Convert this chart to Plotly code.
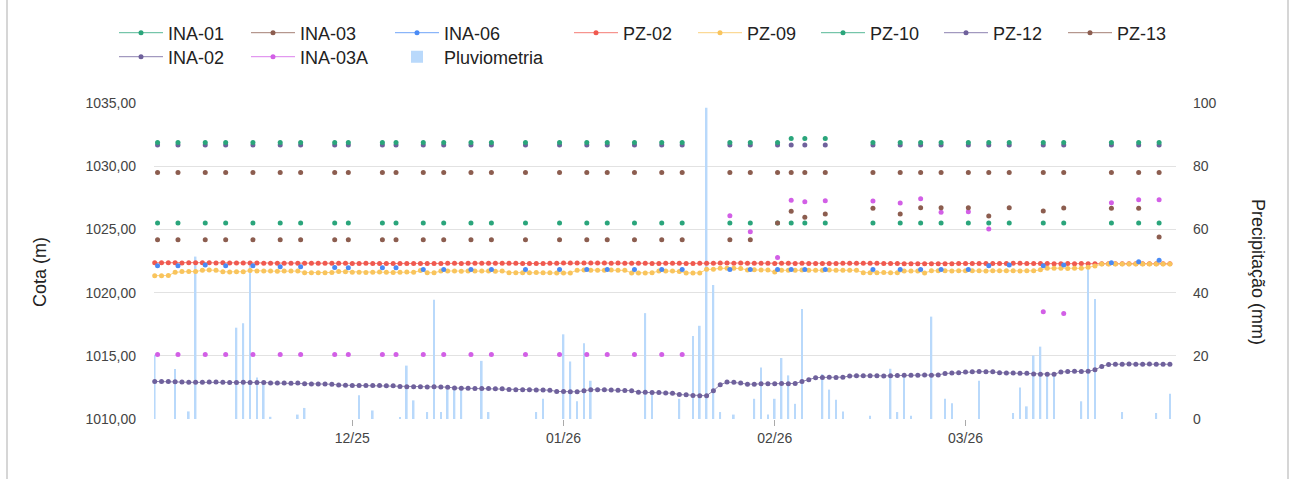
import pandas as pd
import plotly.graph_objects as go

# leituras diarias (02/11/2025 a 31/03/2026)
dias = pd.date_range("2025-11-02", "2026-03-31", freq="D")

ina02 = [
    1012.97, 1012.97, 1012.96, 1012.95, 1012.92, 1012.90, 1012.90, 1012.91, 1012.92, 1012.92,
    1012.91, 1012.89, 1012.89, 1012.90, 1012.89, 1012.88, 1012.89, 1012.85, 1012.84, 1012.84,
    1012.83, 1012.84, 1012.78, 1012.77, 1012.76, 1012.76, 1012.75, 1012.68, 1012.67, 1012.66,
    1012.66, 1012.65, 1012.66, 1012.65, 1012.64, 1012.63, 1012.57, 1012.56, 1012.55, 1012.55,
    1012.54, 1012.55, 1012.53, 1012.52, 1012.45, 1012.44, 1012.43, 1012.42, 1012.42, 1012.41,
    1012.40, 1012.39, 1012.33, 1012.32, 1012.31, 1012.31, 1012.30, 1012.29, 1012.28, 1012.18,
    1012.17, 1012.16, 1012.15, 1012.24, 1012.31, 1012.32, 1012.31, 1012.30, 1012.27, 1012.26,
    1012.24, 1012.12, 1012.11, 1012.10, 1012.09, 1012.06, 1012.04, 1011.93, 1011.91, 1011.85,
    1011.84, 1011.84, 1012.24, 1012.71, 1012.92, 1012.91, 1012.84, 1012.75, 1012.74, 1012.78,
    1012.79, 1012.79, 1012.80, 1012.79, 1012.81, 1012.97, 1013.10, 1013.27, 1013.29, 1013.30,
    1013.29, 1013.31, 1013.40, 1013.42, 1013.42, 1013.43, 1013.42, 1013.41, 1013.43, 1013.44,
    1013.46, 1013.47, 1013.47, 1013.48, 1013.47, 1013.49, 1013.60, 1013.63, 1013.65, 1013.72,
    1013.74, 1013.75, 1013.74, 1013.73, 1013.66, 1013.64, 1013.63, 1013.62, 1013.62, 1013.56,
    1013.55, 1013.55, 1013.54, 1013.72, 1013.76, 1013.77, 1013.76, 1013.78, 1013.89, 1014.16,
    1014.32, 1014.34, 1014.34, 1014.35, 1014.34, 1014.34, 1014.35, 1014.34, 1014.33, 1014.33,
]

pz02 = [
    1022.36, 1022.37, 1022.36, 1022.36, 1022.35, 1022.36, 1022.37, 1022.36, 1022.36, 1022.35,
    1022.36, 1022.35, 1022.34, 1022.35, 1022.35, 1022.34, 1022.33, 1022.32, 1022.32, 1022.33,
    1022.33, 1022.32, 1022.33, 1022.33, 1022.32, 1022.33, 1022.33, 1022.32, 1022.32, 1022.31,
    1022.31, 1022.32, 1022.31, 1022.31, 1022.30, 1022.31, 1022.31, 1022.30, 1022.31, 1022.31,
    1022.30, 1022.31, 1022.31, 1022.32, 1022.32, 1022.31, 1022.32, 1022.32, 1022.33, 1022.33,
    1022.32, 1022.33, 1022.32, 1022.32, 1022.31, 1022.31, 1022.30, 1022.31, 1022.32, 1022.33,
    1022.34, 1022.34, 1022.35, 1022.34, 1022.35, 1022.35, 1022.34, 1022.33, 1022.34, 1022.33,
    1022.32, 1022.33, 1022.32, 1022.31, 1022.31, 1022.32, 1022.33, 1022.32, 1022.31, 1022.31,
    1022.32, 1022.33, 1022.33, 1022.34, 1022.34, 1022.33, 1022.34, 1022.33, 1022.33, 1022.32,
    1022.32, 1022.31, 1022.32, 1022.32, 1022.31, 1022.32, 1022.31, 1022.30, 1022.30, 1022.31,
    1022.31, 1022.32, 1022.32, 1022.33, 1022.33, 1022.32, 1022.32, 1022.31, 1022.31, 1022.30,
    1022.29, 1022.29, 1022.28, 1022.29, 1022.28, 1022.28, 1022.29, 1022.29, 1022.30, 1022.30,
    1022.30, 1022.31, 1022.31, 1022.30, 1022.31, 1022.31, 1022.32, 1022.32, 1022.31, 1022.30,
    1022.30, 1022.30, 1022.29, 1022.29, 1022.30, 1022.29, 1022.30, 1022.29, 1022.29, 1022.29,
    1022.28, 1022.28, 1022.29, 1022.28, 1022.28, 1022.28, 1022.28, 1022.29, 1022.28, 1022.28,
]

pz09 = [
    1021.34, 1021.34, 1021.35, 1021.61, 1021.66, 1021.67, 1021.66, 1021.77, 1021.78, 1021.76,
    1021.64, 1021.63, 1021.64, 1021.65, 1021.74, 1021.71, 1021.70, 1021.70, 1021.69, 1021.70,
    1021.71, 1021.70, 1021.58, 1021.57, 1021.58, 1021.58, 1021.59, 1021.66, 1021.65, 1021.61,
    1021.61, 1021.60, 1021.61, 1021.62, 1021.61, 1021.60, 1021.61, 1021.62, 1021.61, 1021.74,
    1021.58, 1021.57, 1021.70, 1021.71, 1021.70, 1021.69, 1021.70, 1021.71, 1021.70, 1021.70,
    1021.69, 1021.70, 1021.58, 1021.58, 1021.57, 1021.58, 1021.59, 1021.58, 1021.58, 1021.56,
    1021.55, 1021.56, 1021.77, 1021.78, 1021.77, 1021.76, 1021.77, 1021.78, 1021.77, 1021.76,
    1021.56, 1021.55, 1021.56, 1021.57, 1021.70, 1021.71, 1021.70, 1021.66, 1021.56, 1021.55,
    1021.56, 1021.84, 1021.85, 1021.92, 1021.93, 1021.92, 1021.91, 1021.79, 1021.80, 1021.79,
    1021.78, 1021.62, 1021.77, 1021.76, 1021.77, 1021.78, 1021.77, 1021.76, 1021.77, 1021.78,
    1021.77, 1021.76, 1021.77, 1021.77, 1021.58, 1021.57, 1021.58, 1021.59, 1021.58, 1021.57,
    1021.70, 1021.71, 1021.70, 1021.56, 1021.72, 1021.73, 1021.72, 1021.71, 1021.72, 1021.72,
    1021.73, 1021.72, 1021.71, 1021.72, 1021.72, 1021.73, 1021.72, 1021.71, 1021.72, 1021.72,
    1021.80, 1021.92, 1021.93, 1021.92, 1021.91, 1021.92, 1021.92, 1022.00, 1022.10, 1022.26,
    1022.26, 1022.27, 1022.26, 1022.26, 1022.27, 1022.26, 1022.26, 1022.27, 1022.26, 1022.26,
]

pluviometria = [
    20.3, 0, 0, 15.8, 0, 2.4, 51.4, 0, 0, 0,
    0, 0, 28.9, 30.3, 49.0, 13.1, 11.4, 0.7, 0, 0,
    0, 1.4, 3.5, 0, 0, 0, 0, 0, 0, 0,
    7.5, 0, 2.7, 0, 0, 0, 0.5, 16.9, 5.9, 0,
    2.2, 37.7, 2.2, 9.3, 10.3, 10.3, 0, 0, 18.4, 2.2,
    0, 0, 0, 0, 0, 0, 2.2, 6.4, 0, 0,
    26.8, 18.2, 5.6, 24.0, 12.1, 0, 0, 0, 0, 0,
    0, 0, 33.5, 8.5, 0, 0, 0, 6.4, 0, 26.3,
    29.5, 98.5, 42.4, 2.2, 0, 1.4, 0, 0, 6.4, 16.3,
    1.4, 6.4, 19.3, 13.8, 4.8, 34.8, 0, 0, 14.2, 9.3,
    6.1, 2.4, 0, 0, 0, 1.0, 0, 0, 15.9, 2.2,
    14.2, 1.0, 0, 0, 32.4, 0, 6.4, 5.0, 0, 0,
    0, 12.1, 0, 0, 0, 0, 1.9, 10.0, 4.0, 20.1,
    22.9, 14.2, 13.8, 0, 0, 0, 5.6, 47.7, 38.0, 0,
    0, 0, 2.2, 0, 0, 0, 0, 1.9, 0, 8.0,
]

# leituras de campo (manuais)
datas_campo = [
    "2025-11-02", "2025-11-05", "2025-11-09", "2025-11-12", "2025-11-16", "2025-11-20",
    "2025-11-23", "2025-11-28", "2025-11-30", "2025-12-05", "2025-12-07", "2025-12-11",
    "2025-12-14", "2025-12-18", "2025-12-21", "2025-12-26", "2025-12-31", "2026-01-04",
    "2026-01-07", "2026-01-11", "2026-01-15", "2026-01-18", "2026-01-25", "2026-01-28",
    "2026-02-01", "2026-02-03", "2026-02-05", "2026-02-08", "2026-02-15", "2026-02-19",
    "2026-02-22", "2026-02-25", "2026-03-01", "2026-03-04", "2026-03-07", "2026-03-12",
    "2026-03-15", "2026-03-22", "2026-03-26", "2026-03-29",
]

ina01 = [
    1031.88, 1031.88, 1031.88, 1031.88, 1031.88, 1031.88, 1031.88, 1031.88, 1031.88, 1031.88,
    1031.88, 1031.88, 1031.88, 1031.88, 1031.88, 1031.88, 1031.88, 1031.88, 1031.88, 1031.88,
    1031.88, 1031.88, 1031.88, 1031.88, 1031.88, 1032.19, 1032.19, 1032.19, 1031.88, 1031.88,
    1031.88, 1031.88, 1031.88, 1031.88, 1031.88, 1031.88, 1031.88, 1031.88, 1031.88, 1031.88,
]
ina03 = [
    1024.19, 1024.19, 1024.19, 1024.19, 1024.19, 1024.19, 1024.19, 1024.19, 1024.19, 1024.19,
    1024.19, 1024.19, 1024.19, 1024.19, 1024.19, 1024.19, 1024.19, 1024.19, 1024.19, 1024.19,
    1024.19, 1024.19, 1024.19, 1024.19, 1025.50, 1026.43, 1025.96, 1026.22, 1026.67, 1026.22,
    1026.72, 1026.72, 1026.72, 1026.06, 1026.72, 1026.45, 1026.70, 1026.67, 1026.67, 1024.40,
]
ina03a = [
    1015.10, 1015.10, 1015.10, 1015.10, 1015.10, 1015.10, 1015.10, 1015.10, 1015.10, 1015.10,
    1015.10, 1015.10, 1015.10, 1015.10, 1015.10, 1015.10, 1015.10, 1015.10, 1015.10, 1015.10,
    1015.10, 1015.10, 1026.08, 1024.82, 1022.77, 1027.30, 1027.19, 1027.27, 1027.24, 1027.09,
    1027.43, 1026.35, 1026.40, 1025.03, None, 1018.48, 1018.34, 1027.11, 1027.35, 1027.35,
]
ina06 = [
    1022.13, 1022.13, 1022.18, 1022.13, 1022.13, 1022.05, 1022.05, 1021.99, 1021.97, 1021.97,
    1021.97, 1021.82, 1021.82, 1021.82, 1021.82, 1021.82, 1021.82, 1021.82, 1021.82, 1021.82,
    1021.82, 1021.82, 1021.82, 1021.82, 1021.82, 1021.82, 1021.82, 1021.82, 1021.82, 1021.82,
    1021.82, 1021.82, 1021.82, 1022.13, 1022.18, 1022.13, 1022.18, 1022.37, 1022.45, 1022.56,
]
pz10 = [
    1025.50, 1025.50, 1025.50, 1025.50, 1025.50, 1025.50, 1025.50, 1025.50, 1025.50, 1025.50,
    1025.50, 1025.50, 1025.50, 1025.50, 1025.50, 1025.50, 1025.50, 1025.50, 1025.50, 1025.50,
    1025.50, 1025.50, 1025.50, 1025.50, 1025.50, 1025.50, 1025.50, 1025.50, 1025.50, 1025.50,
    1025.50, 1025.50, 1025.50, 1025.50, 1025.50, 1025.50, 1025.50, 1025.50, 1025.50, 1025.50,
]
pz12 = [
    1031.67, 1031.67, 1031.67, 1031.67, 1031.67, 1031.67, 1031.67, 1031.67, 1031.67, 1031.67,
    1031.67, 1031.67, 1031.67, 1031.67, 1031.67, 1031.67, 1031.67, 1031.67, 1031.67, 1031.67,
    1031.67, 1031.67, 1031.67, 1031.67, 1031.67, 1031.67, 1031.67, 1031.67, 1031.67, 1031.67,
    1031.67, 1031.67, 1031.67, 1031.67, 1031.67, 1031.67, 1031.67, 1031.67, 1031.67, 1031.67,
]
pz13 = [
    1029.51, 1029.51, 1029.51, 1029.51, 1029.51, 1029.51, 1029.51, 1029.51, 1029.51, 1029.51,
    1029.51, 1029.51, 1029.51, 1029.51, 1029.51, 1029.51, 1029.51, 1029.51, 1029.51, 1029.51,
    1029.51, 1029.51, 1029.51, 1029.51, 1029.51, 1029.51, 1029.51, 1029.51, 1029.51, 1029.51,
    1029.51, 1029.51, 1029.51, 1029.51, 1029.51, 1029.51, 1029.51, 1029.51, 1029.51, 1029.51,
]

VERDE = "#2aa57b"
MARROM = "#8c5d4f"
AZUL = "#4a8bf5"
VERMELHO = "#f0594f"
AMARELO = "#f9c45c"
ROXO = "#6f619c"
ROSA = "#d25fe6"
CHUVA = "#b9d9fb"

# area do grafico: 154..1176 px na horizontal, 103..419 px na vertical
L, R, T, B = 154, 119, 103, 60
W, H = 1295 - L - R, 479 - T - B


def px_x(p):
    return (p - L) / W


def px_y(p):
    return (479 - B - p) / H


def campo(valores):
    # pontos isolados: intercala None para nao ligar as leituras
    xs, ys = [], []
    for d, v in zip(datas_campo, valores):
        xs += [d + " 10:00", d + " 10:00"]
        ys += [v, None]
    return xs, ys


# posicao de cada item da legenda (inicio do texto, centro da linha) em px
pos_legenda = {
    "INA-01": (168, 33), "INA-03": (300, 33), "INA-06": (444, 33), "PZ-02": (623, 33),
    "PZ-09": (747, 33), "PZ-10": (870, 33), "PZ-12": (993, 33), "PZ-13": (1117, 33),
    "INA-02": (168, 57), "INA-03A": (300, 57), "Pluviometria": (444, 57),
}
fonte = "Arial, Liberation Sans, sans-serif"
legendas = {}
ids = {}
for i, (nome, (px, py)) in enumerate(pos_legenda.items()):
    chave = "legend" if i == 0 else "legend%d" % (i + 1)
    ids[nome] = chave
    legendas[chave] = dict(x=px_x(px - 54), y=px_y(py), xanchor="left", yanchor="middle",
                           orientation="v", bgcolor="rgba(0,0,0,0)", itemwidth=44,
                           font=dict(family=fonte, size=18, color="#222"))

fig = go.Figure()

fig.add_trace(go.Bar(x=dias, y=pluviometria, name="Pluviometria", yaxis="y",
                     marker=dict(color=CHUVA, line_width=0), width=0.25 * 86400000,
                     legend=ids["Pluviometria"]))


def diaria(valores, nome, cor):
    fig.add_trace(go.Scatter(x=dias, y=valores, name=nome, yaxis="y2", mode="lines+markers",
                             line=dict(color=cor, width=0.8), marker=dict(color=cor, size=5),
                             cliponaxis=False, legend=ids[nome]))


def manual(valores, nome, cor):
    xs, ys = campo(valores)
    fig.add_trace(go.Scatter(x=xs, y=ys, name=nome, yaxis="y2", mode="lines+markers",
                             connectgaps=False, line=dict(color=cor, width=0.8),
                             marker=dict(color=cor, size=5), cliponaxis=False,
                             legend=ids[nome]))


diaria(pz02, "PZ-02", VERMELHO)
diaria(pz09, "PZ-09", AMARELO)
manual(ina06, "INA-06", AZUL)
diaria(ina02, "INA-02", ROXO)
manual(ina03a, "INA-03A", ROSA)
manual(pz12, "PZ-12", ROXO)
manual(ina01, "INA-01", VERDE)
manual(pz10, "PZ-10", VERDE)
manual(pz13, "PZ-13", MARROM)
manual(ina03, "INA-03", MARROM)

fig.update_layout(
    width=1295, height=479,
    margin=dict(l=L, r=R, t=T, b=B, autoexpand=False),
    paper_bgcolor="white", plot_bgcolor="white",
    font=dict(family=fonte, size=14, color="#444"),
    separators=",.",
    showlegend=True,
    **legendas,
    xaxis=dict(type="date", range=["2025-11-01 21:30", "2026-03-31 21:30"],
               tickvals=["2025-12-01", "2026-01-01", "2026-02-01", "2026-03-01"],
               tickformat="%m/%y", ticks="outside", ticklen=6, tickcolor="#aaa",
               showgrid=False, zeroline=False, showline=False,
               tickfont=dict(size=14, color="#444")),
    yaxis=dict(side="right", range=[0, 100], dtick=20, showgrid=True,
               gridcolor="#e2e2e2", gridwidth=1, zeroline=False,
               ticklabelstandoff=16, tickfont=dict(size=14, color="#444")),
    yaxis2=dict(side="left", overlaying="y", range=[1010, 1035], dtick=5,
                tickformat=".2f", showgrid=False, zeroline=False,
                ticklabelstandoff=17, tickfont=dict(size=14, color="#444")),
    annotations=[
        dict(text="Cota (m)", x=px_x(40), y=px_y(272), xref="paper", yref="paper",
             xanchor="center", yanchor="middle", textangle=-90, showarrow=False,
             font=dict(size=18, color="#222")),
        dict(text="Precipitação (mm)", x=px_x(1258), y=px_y(272), xref="paper", yref="paper",
             xanchor="center", yanchor="middle", textangle=90, showarrow=False,
             font=dict(size=18, color="#222")),
    ],
    shapes=[
        dict(type="line", xref="paper", yref="paper", x0=px_x(7), x1=px_x(7),
             y0=px_y(479), y1=px_y(0), line=dict(color="#d6d6d6", width=2)),
        dict(type="line", xref="paper", yref="paper", x0=px_x(1288), x1=px_x(1288),
             y0=px_y(479), y1=px_y(0), line=dict(color="#d6d6d6", width=2)),
    ],
)

fig.write_html("out.html", config={"displayModeBar": False},
               post_script="document.body.style.margin='0px';")
